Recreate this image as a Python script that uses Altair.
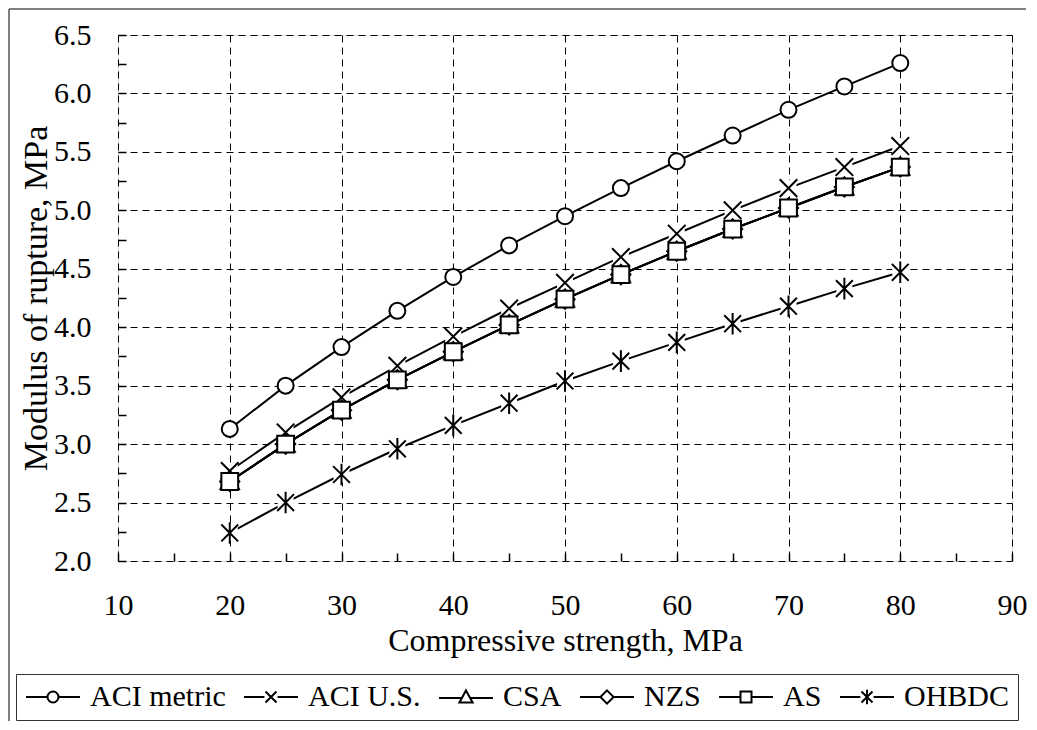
import altair as alt
import pandas as pd

# ---- data ----
strength = [20, 25, 30, 35, 40, 45, 50, 55, 60, 65, 70, 75, 80]
series_names = ["ACI metric", "ACI U.S.", "CSA", "NZS", "AS", "OHBDC"]
aci_metric = [3.13, 3.50, 3.83, 4.14, 4.43, 4.70, 4.95, 5.19, 5.42, 5.64, 5.86, 6.06, 6.26]
aci_us = [2.77, 3.10, 3.40, 3.67, 3.92, 4.16, 4.38, 4.60, 4.80, 5.00, 5.19, 5.37, 5.55]
csa = [2.68, 3.00, 3.29, 3.55, 3.79, 4.02, 4.24, 4.45, 4.65, 4.84, 5.02, 5.20, 5.37]
nzs = [2.68, 3.00, 3.29, 3.55, 3.79, 4.02, 4.24, 4.45, 4.65, 4.84, 5.02, 5.20, 5.37]
as_ = [2.68, 3.00, 3.29, 3.55, 3.79, 4.02, 4.24, 4.45, 4.65, 4.84, 5.02, 5.20, 5.37]
ohbdc = [2.24, 2.50, 2.74, 2.96, 3.16, 3.35, 3.54, 3.71, 3.87, 4.03, 4.18, 4.33, 4.47]

x_major = [10, 20, 30, 40, 50, 60, 70, 80, 90]
x_minor = [10, 15, 20, 25, 30, 35, 40, 45, 50, 55, 60, 65, 70, 75, 80, 85, 90]
y_major = [2.0, 2.5, 3.0, 3.5, 4.0, 4.5, 5.0, 5.5, 6.0, 6.5]
y_minor = [2.0, 2.25, 2.5, 2.75, 3.0, 3.25, 3.5, 3.75, 4.0, 4.25, 4.5, 4.75,
           5.0, 5.25, 5.5, 5.75, 6.0, 6.25, 6.5]

values_by_series = [aci_metric, aci_us, csa, nzs, as_, ohbdc]
rows = []
for name, vals in zip(series_names, values_by_series):
    for xv, yv in zip(strength, vals):
        rows.append({"series": name, "x": xv, "y": yv})
df = pd.DataFrame(rows)

# marker shapes (plot)
plot_paths = [
    "M-1,0A1,1 0 1 1 1,0A1,1 0 1 1 -1,0Z",
    "M-1.1,-1.1L1.1,1.1M-1.1,1.1L1.1,-1.1",
    "M0,-1.15L1.15,0.95L-1.15,0.95Z",
    "M0,-1.2L1.2,0L0,1.2L-1.2,0Z",
    "M-1.05,-1.05L1.05,-1.05L1.05,1.05L-1.05,1.05Z",
    "M-1.05,-1.05L1.05,1.05M-1.05,1.05L1.05,-1.05M0,-1.35L0,1.35",
]
# legend shapes (line + marker)
L = 4.9
legend_paths = [
    f"M-{L},0L-1,0M1,0L{L},0M-1,0A1,1 0 1 1 1,0A1,1 0 1 1 -1,0Z",
    f"M-{L},0L-1.2,0M1.2,0L{L},0M-1,-1L1,1M-1,1L1,-1",
    f"M-{L},0.2L-0.75,0.2M0.75,0.2L{L},0.2M0,-1.2L1.2,1L-1.2,1Z",
    f"M-{L},0L-1.2,0M1.2,0L{L},0M0,-1.2L1.2,0L0,1.2L-1.2,0Z",
    f"M-{L},0L-1,0M1,0L{L},0M-1,-1L1,-1L1,1L-1,1Z",
    f"M-{L},0L-1.2,0M1.2,0L{L},0M-1,-1L1,1M-1,1L1,-1M0,-1.3L0,1.3",
]

W, H = 894, 526
FONT = "Liberation Serif"

xscale = alt.Scale(domain=[10, 90], nice=False, zero=False)
yscale = alt.Scale(domain=[2.0, 6.5], nice=False, zero=False)

base = alt.Chart(df)

lines = base.mark_line(color="black", strokeWidth=2).encode(
    x=alt.X("x:Q", scale=xscale, axis=alt.Axis(
        values=x_major, format="d", title="Compressive strength, MPa", orient="bottom",
        grid=True, gridDash=[7, 5], gridColor="black", gridWidth=1, gridOpacity=1,
        ticks=False, domain=False, labelFont=FONT, labelFontSize=30, labelColor="black",
        labelPadding=29, labelFlush=False, labelOverlap=False,
        titleFont=FONT, titleFontSize=32, titleFontWeight="normal", titleColor="black",
        titlePadding=5)),
    y=alt.Y("y:Q", scale=yscale, axis=alt.Axis(
        values=y_major, format=".1f", title="Modulus of rupture, MPa", orient="left",
        grid=True, gridDash=[7, 5], gridColor="black", gridWidth=1, gridOpacity=1,
        ticks=False, domain=False, labelFont=FONT, labelFontSize=30, labelColor="black",
        labelPadding=27, labelFlush=False, labelOverlap=False,
        titleFont=FONT, titleFontSize=34, titleFontWeight="normal", titleColor="black",
        titlePadding=0)),
    detail="series:N",
)

bg = base.transform_filter(
    alt.FieldOneOfPredicate(field="series", oneOf=["ACI U.S.", "OHBDC"])
).mark_point(shape="square", filled=True, fill="white", strokeOpacity=0, size=256, opacity=1).encode(
    x=alt.X("x:Q", scale=xscale, axis=None),
    y=alt.Y("y:Q", scale=yscale, axis=None),
)

markers = base.mark_point(filled=True, fill="white", stroke="black", strokeWidth=2,
                          size=256, opacity=1).encode(
    x=alt.X("x:Q", scale=xscale, axis=None),
    y=alt.Y("y:Q", scale=yscale, axis=None),
    shape=alt.Shape("series:N", scale=alt.Scale(domain=series_names, range=plot_paths),
                    legend=None),
)

legend_layer = base.mark_point(opacity=0, color="black").encode(
    x=alt.X("x:Q", scale=xscale, axis=alt.Axis(
        orient="top", offset=-H, values=x_minor, labels=False, domain=False, grid=False,
        ticks=True, tickSize=8, tickColor="black", tickWidth=1.5, title=None)),
    y=alt.Y("y:Q", scale=yscale, axis=alt.Axis(
        orient="right", offset=-W, values=y_minor, labels=False, domain=False, grid=False,
        ticks=True, tickSize=8, tickColor="black", tickWidth=1.5, title=None)),
    shape=alt.Shape("series:N", scale=alt.Scale(domain=series_names, range=legend_paths),
                    legend=alt.Legend(
                        title=None, orient="none", direction="horizontal",
                        legendX=-102, legendY=639,
                        labelFont=FONT, labelFontSize=30, labelColor="black",
                        symbolSize=121, symbolStrokeWidth=2, symbolStrokeColor="black",
                        symbolFillColor="white", symbolOpacity=1,
                        symbolOffset=14, labelOffset=22, columnPadding=14,
                        padding=8, strokeColor="#333333", fillColor="white")),
)

frame_data = pd.DataFrame({"k": [0]})
frame_left = alt.Chart(frame_data).mark_rule(color="#555555", strokeWidth=1.5).encode(
    x=alt.value(-109), y=alt.value(-26), y2=alt.value(686))
frame_top = alt.Chart(frame_data).mark_rule(color="#555555", strokeWidth=1.5).encode(
    x=alt.value(-109), x2=alt.value(908), y=alt.value(-26))

chart = alt.layer(lines, bg, markers, legend_layer, frame_left, frame_top).resolve_scale(
    shape="independent"
).resolve_axis(
    x="independent", y="independent"
).properties(
    width=W, height=H, padding={"left": 0, "top": 0, "right": 0, "bottom": 0},
    background="white",
).configure_view(
    stroke="black", strokeWidth=2
).configure(font=FONT)

chart.save("out.html", embed_options={"renderer": "svg", "actions": False})
